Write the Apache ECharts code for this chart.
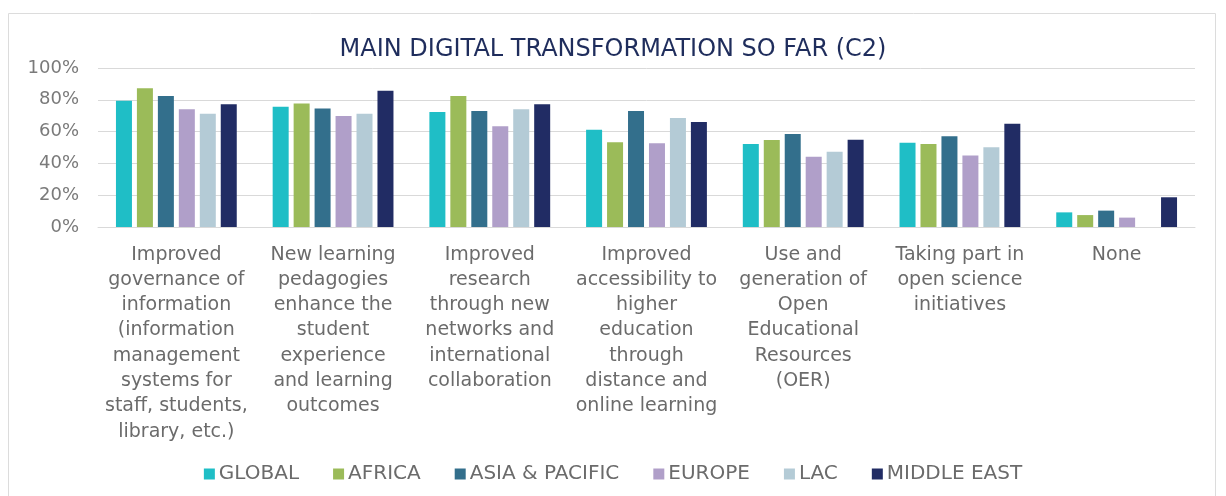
<!DOCTYPE html>
<html>
<head>
<meta charset="utf-8">
<script src="https://cdn.jsdelivr.net/npm/echarts@6/dist/echarts.min.js"></script>
<style>
html,body{margin:0;padding:0;background:#fff;}
#chart{width:1226px;height:496px;}
</style>
</head>
<body>
<div id="chart"></div>
<script>
const categories = [
  "Improved\ngovernance of\ninformation\n(information\nmanagement\nsystems for\nstaff, students,\nlibrary, etc.)",
  "New learning\npedagogies\nenhance the\nstudent\nexperience\nand learning\noutcomes",
  "Improved\nresearch\nthrough new\nnetworks and\ninternational\ncollaboration",
  "Improved\naccessibility to\nhigher\neducation\nthrough\ndistance and\nonline learning",
  "Use and\ngeneration of\nOpen\nEducational\nResources\n(OER)",
  "Taking part in\nopen science\ninitiatives",
  "None"
];
const yTicks = [0, 20, 40, 60, 80, 100];
const seriesNames = ["GLOBAL", "AFRICA", "ASIA & PACIFIC", "EUROPE", "LAC", "MIDDLE EAST"];
const globalVals = [79.4, 75.7, 72.3, 61.2, 52.2, 53.0, 9.2];
const africaVals = [87.2, 77.6, 82.4, 53.3, 54.7, 52.2, 7.5];
const asiaVals   = [82.4, 74.6, 73.0, 73.0, 58.5, 57.0, 10.3];
const europeVals = [74.0, 69.8, 63.3, 52.6, 44.2, 44.9, 5.9];
const lacVals    = [71.3, 71.3, 74.0, 68.6, 47.4, 50.1, 0];
const meVals     = [77.2, 85.7, 77.2, 66.0, 54.9, 65.0, 18.7];
const colors = ["#1fbec6", "#9bbb59", "#336f8c", "#b09fc9", "#b4cbd6", "#212c64"];

const allVals = [globalVals, africaVals, asiaVals, europeVals, lacVals, meVals];
const FONT = "DejaVu Sans";

const chart = echarts.init(document.getElementById('chart'), null, {renderer: 'canvas'});
chart.setOption({
  animation: false,
  backgroundColor: '#ffffff',
  graphic: [{
    type: 'rect', silent: true, z: -10,
    shape: {x: 8.5, y: 13.5, width: 1207, height: 520},
    style: {fill: 'none', stroke: '#dcdcdc', lineWidth: 1}
  }],
  title: {
    text: 'MAIN DIGITAL TRANSFORMATION SO FAR (C2)',
    left: 'center', top: 33,
    textStyle: {fontFamily: FONT, fontSize: 24, fontWeight: 'normal', color: '#1f2d5c'}
  },
  legend: {
    bottom: 7, left: 'center',
    itemWidth: 11, itemHeight: 11, itemGap: 34,
    icon: 'rect',
    textStyle: {fontFamily: FONT, fontSize: 20, color: '#6b6b6b', padding: [0, 0, 0, -1]},
    data: seriesNames
  },
  grid: {left: 98, right: 31, top: 68, bottom: 269, containLabel: false},
  xAxis: {
    type: 'category',
    data: categories,
    axisTick: {show: false},
    axisLine: {lineStyle: {color: '#d9d9d9', width: 1}},
    axisLabel: {
      interval: 0, margin: 15,
      fontFamily: FONT, fontSize: 19, lineHeight: 25.3, color: '#6b6b6b', align: 'center'
    }
  },
  yAxis: {
    type: 'value', min: 0, max: 100, interval: 20,
    axisLine: {show: false}, axisTick: {show: false},
    splitLine: {lineStyle: {color: '#d9d9d9', width: 1}},
    axisLabel: {
      formatter: function (v) { return yTicks.indexOf(v) >= 0 ? v + '%' : ''; },
      fontFamily: FONT, fontSize: 18, color: '#7a7a7a', margin: 19
    }
  },
  series: seriesNames.map((n, i) => ({
    name: n, type: 'bar',
    data: allVals[i],
    barWidth: 16, barGap: '31%',
    itemStyle: {color: colors[i]}
  }))
});
</script>
</body>
</html>
